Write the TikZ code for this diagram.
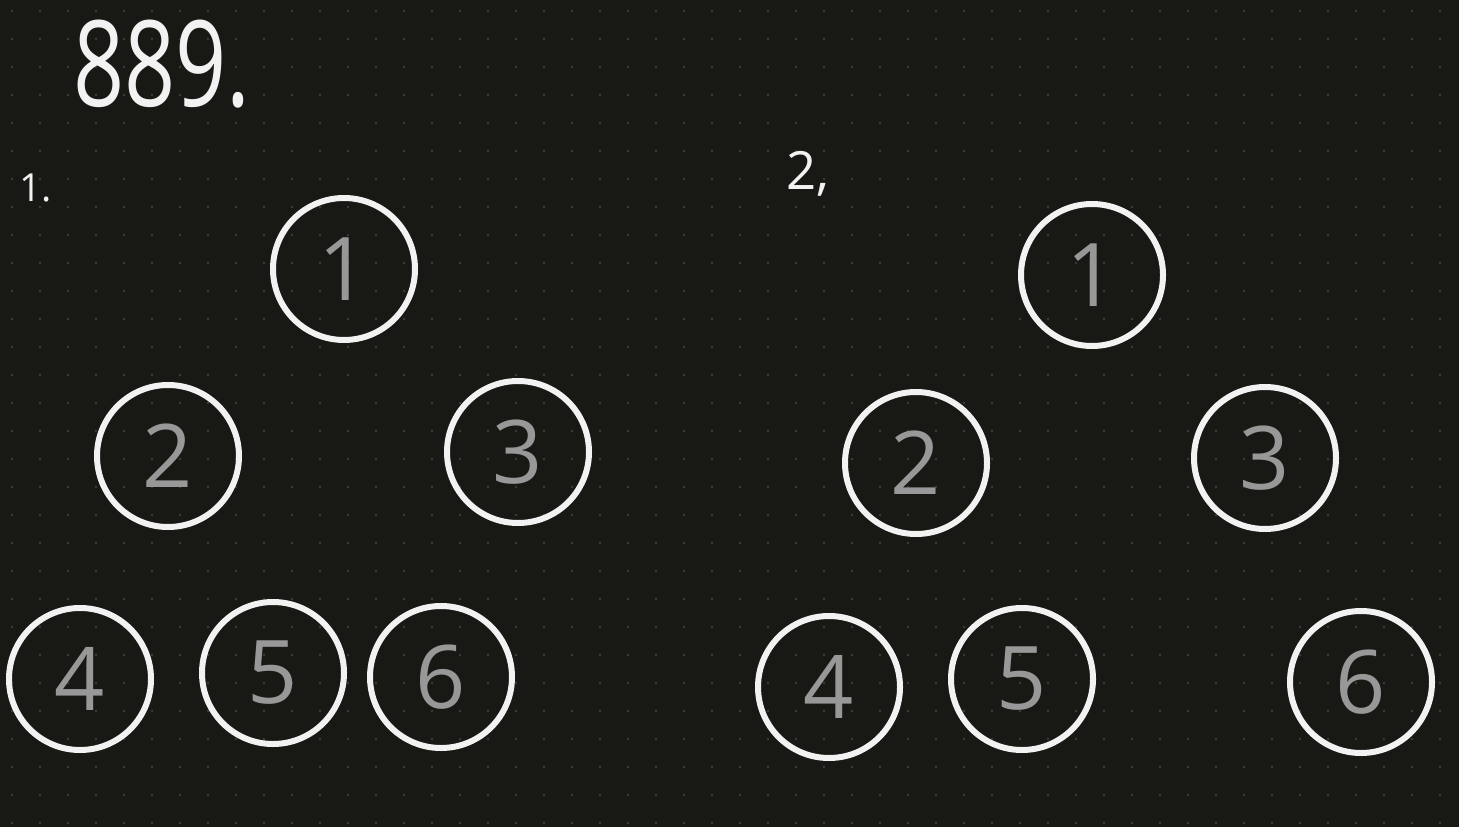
\documentclass[tikz,border=0pt]{standalone}
\usepackage{fontspec}
\setmainfont{Open Sans}
\usetikzlibrary{positioning}
\definecolor{board}{RGB}{24, 25, 20}
\definecolor{grid_dot}{RGB}{60, 61, 56}
\definecolor{chalk}{RGB}{242, 242, 242}
\definecolor{pencil}{RGB}{152, 152, 152}

\begin{document}
\begin{tikzpicture}[
    x=0.02cm, y=-0.02cm,
    ball/.style={
        circle,
        draw=chalk,
        line width=6*0.02cm,
        minimum size=142*0.02cm,
        inner sep=0pt,
        text=pencil,
        font=\fontsize{50}{56}\selectfont
    },
    title/.style={
        text=chalk,
        inner sep=0pt,
        font=\fontsize{#1}{#1}\selectfont
    }
]

% board with dot grid
\fill[board] (0,0) rectangle (1459,827);
\useasboundingbox (0,0) rectangle (1459,827);
\foreach \gx in {0,...,51}
    \foreach \gy in {0,...,29}
        \fill[grid_dot] (12+28*\gx, 11+28*\gy) circle (1.4);

% heading
\node[title=68] (heading) at (162,64) {\scalebox{0.75}[1]{889.}};

% first arrangement
\node[title=22] (firstlabel) at (36,188) {1.};
\node[ball] (aone) at (344,269) {1};
\node[ball] (atwo) at (168,456) {2};
\node[ball] (athree) at (518,452) {3};
\node[ball] (afour) at (80,679) {4};
\node[ball] (afive) at (273,673) {5};
\node[ball] (asix) at (441,677) {6};

% second arrangement
\node[title=30] (secondlabel) at (808,174) {2,};
\node[ball] (bone) at (1092,275) {1};
\node[ball] (btwo) at (916,463) {2};
\node[ball] (bthree) at (1265,458) {3};
\node[ball] (bfour) at (829,687) {4};
\node[ball] (bfive) at (1022,679) {5};
\node[ball] (bsix) at (1361,682) {6};

\end{tikzpicture}
\end{document}
